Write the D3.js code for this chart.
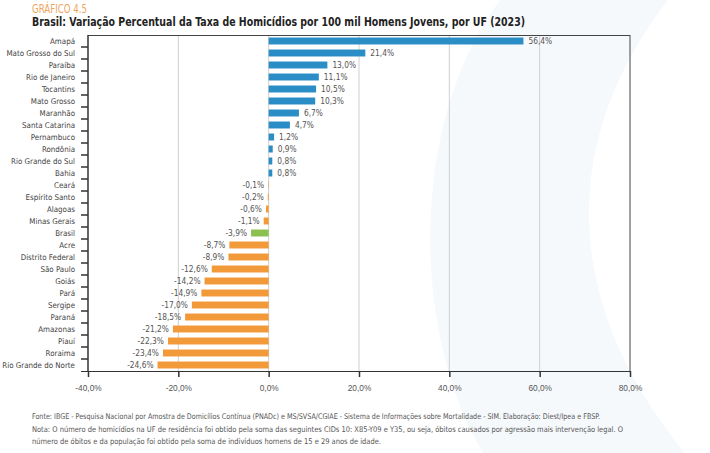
<!DOCTYPE html>
<html><head><meta charset="utf-8">
<script src="https://cdn.jsdelivr.net/npm/d3@7"></script>
<style>
body{margin:0;background:#fff;}
svg{display:block;font-family:"Liberation Sans Narrow","DejaVu Sans Condensed",Roboto,"Noto Sans",sans-serif;}
</style></head><body>
<svg id="c" width="710" height="453"></svg>
<script>
const categories = ["Amapá","Mato Grosso do Sul","Paraíba","Rio de Janeiro","Tocantins","Mato Grosso","Maranhão","Santa Catarina","Pernambuco","Rondônia","Rio Grande do Sul","Bahia","Ceará","Espírito Santo","Alagoas","Minas Gerais","Brasil","Acre","Distrito Federal","São Paulo","Goiás","Pará","Sergipe","Paraná","Amazonas","Piauí","Roraima","Rio Grande do Norte"];
const values = [56.4,21.4,13.0,11.1,10.5,10.3,6.7,4.7,1.2,0.9,0.8,0.8,-0.1,-0.2,-0.6,-1.1,-3.9,-8.7,-8.9,-12.6,-14.2,-14.9,-17.0,-18.5,-21.2,-22.3,-23.4,-24.6];
const xTicks = [-40,-20,0,20,40,60,80];
const gridTicks = [-20,0,20,40,60];
const title = "Brasil: Variação Percentual da Taxa de Homicídios por 100 mil Homens Jovens, por UF (2023)";
const kicker = "GRÁFICO 4.5";
const notes = [
 "Fonte: IBGE - Pesquisa Nacional por Amostra de Domicílios Contínua (PNADc) e MS/SVSA/CGIAE - Sistema de Informações sobre Mortalidade - SIM. Elaboração: Diest/Ipea e FBSP.",
 "Nota: O número de homicídios na UF de residência foi obtido pela soma das seguintes CIDs 10: X85-Y09 e Y35, ou seja, óbitos causados por agressão mais intervenção legal. O",
 "número de óbitos e da população foi obtido pela soma de indivíduos homens de 15 e 29 anos de idade."
];
const noteWidths = [568, 591, 349];

const svg = d3.select("#c");
const fmt = v => d3.format(".1f")(v).replace(".", ",").replace("−","-") + "%";

// faint background watermark
svg.append("path")
  .attr("d","M 500 0 L 668 0 C 560 140 560 300 685 453 L 483 453 C 410 330 410 120 500 0 Z")
  .attr("fill","#f6f9fc");

const m = {left:88, right:630, top:35, bottom:371};
const x = d3.scaleLinear().domain([-40,80]).range([m.left, m.right]);
const y = d3.scaleBand().domain(categories).range([m.top, m.bottom]).paddingInner(0.42).paddingOuter(0.21);

// gridlines
svg.append("g").selectAll("line").data(gridTicks).join("line")
  .attr("x1",d=>x(d)).attr("x2",d=>x(d)).attr("y1",m.top).attr("y2",m.bottom)
  .attr("stroke","#cfcfcf").attr("stroke-width",1);

// bars
svg.append("g").selectAll("rect").data(values).join("rect")
  .attr("x",d=>x(Math.min(0,d)))
  .attr("y",(d,i)=>y(categories[i]))
  .attr("width",d=>Math.abs(x(d)-x(0)))
  .attr("height",y.bandwidth())
  .attr("fill",(d,i)=>categories[i]==="Brasil" ? "#8cc152" : (d>=0 ? "#2b8dc6" : "#f2993a"));

// value labels
svg.append("g").selectAll("text").data(values).join("text")
  .attr("x",d=> d>=0 ? x(d)+5 : x(d)-4)
  .attr("y",(d,i)=>y(categories[i])+y.bandwidth()/2)
  .attr("dy","0.35em")
  .attr("text-anchor",d=> d>=0 ? "start":"end")
  .attr("font-size",8.3).attr("fill","#555")
  .text(d=>fmt(d));

// frame: top and right
svg.append("line").attr("x1",m.left).attr("x2",m.right).attr("y1",m.top+0.5).attr("y2",m.top+0.5).attr("stroke","#444");
svg.append("line").attr("x1",m.right).attr("x2",m.right).attr("y1",m.top).attr("y2",m.bottom).attr("stroke","#444");

// bottom axis
const xa = svg.append("g").attr("transform",`translate(0,${m.bottom})`)
  .call(d3.axisBottom(x).tickValues(xTicks).tickSize(6).tickPadding(8).tickFormat(fmt));
xa.select(".domain").attr("stroke","#333").attr("d",`M${m.left-7},0.5H${m.right}`);
xa.selectAll(".tick line").attr("stroke","#333").attr("stroke-width",1.5);
xa.selectAll(".tick text").attr("font-size",8.3).attr("fill","#555").attr("font-family","inherit");

// left axis
const boundaries = categories.slice(1).map(c=>y(c)-y.step()*y.paddingInner()/2);
const ya = svg.append("g").attr("transform",`translate(${m.left},0)`);
ya.append("line").attr("x1",0).attr("x2",0).attr("y1",m.top).attr("y2",m.bottom).attr("stroke","#333").attr("stroke-width",1.5);
ya.selectAll("line.t").data(boundaries).join("line").attr("class","t")
  .attr("x1",-7).attr("x2",0).attr("y1",d=>d).attr("y2",d=>d).attr("stroke","#333").attr("stroke-width",1.5);
ya.selectAll("text").data(categories).join("text")
  .attr("x",-13).attr("y",d=>y(d)+y.bandwidth()/2).attr("dy","0.35em")
  .attr("text-anchor","end").attr("font-size",7.9).attr("fill","#444").text(d=>d);

// titles
svg.append("text").attr("x",32).attr("y",12.5).attr("font-size",12.5).attr("fill","#f0a35e")
  .attr("textLength",55).attr("lengthAdjust","spacingAndGlyphs").text(kicker);
svg.append("text").attr("x",32).attr("y",25.5).attr("font-size",12.2).attr("font-weight","bold").attr("fill","#222")
  .attr("textLength",493).attr("lengthAdjust","spacingAndGlyphs").text(title);

// notes
svg.append("g").selectAll("text").data(notes).join("text")
  .attr("x",32).attr("y",(d,i)=>419+i*12.5).attr("font-size",7.8).attr("fill","#555")
  .attr("textLength",(d,i)=>noteWidths[i]).attr("lengthAdjust","spacingAndGlyphs").text(d=>d);
</script>
</body></html>
